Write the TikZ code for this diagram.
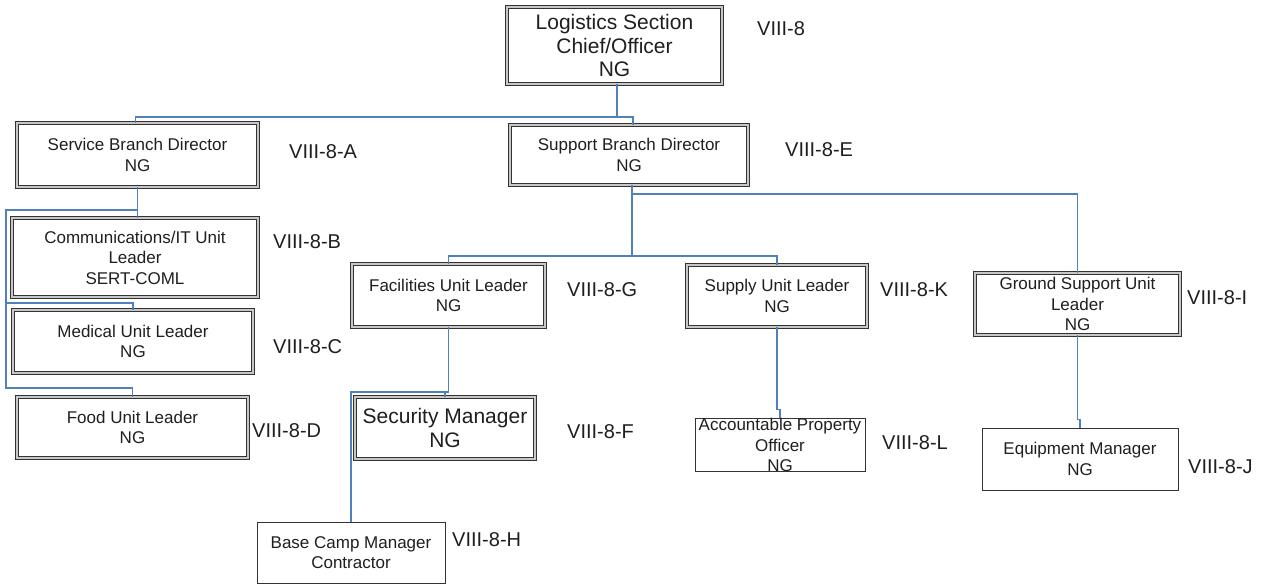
\documentclass[tikz,border=0pt]{standalone}
\usepackage{fontspec}
\setmainfont{Liberation Sans}
\begin{document}
\begin{tikzpicture}[x=1pt,y=-1pt,
  conn/.style={draw={rgb,255:red,79;green,129;blue,189},line width=1.1pt},
  boxbase/.style={rectangle,inner sep=0pt,align=center,text=black!88,font=\fontsize{17pt}{20.5pt}\selectfont},
  dbox/.style={boxbase,draw=black!80,line width=0.9pt,double=black!22,double distance=1.8pt},
  sbox/.style={boxbase,draw=black!80,line width=0.9pt},
  big/.style={font=\fontsize{21pt}{23.5pt}\selectfont},
  code/.style={anchor=west,inner sep=0pt,text=black!88,font=\fontsize{20pt}{22pt}\selectfont}
]
\useasboundingbox[fill=white] (0,0) rectangle (1262,585);

% boxes
\node[dbox,big,minimum width=215,minimum height=77] (log) at (614.5,45.5) {Logistics Section\\Chief/Officer\\NG};
\node[dbox,minimum width=241,minimum height=64] (svc) at (137.5,155) {Service Branch Director\\NG};
\node[dbox,minimum width=246,minimum height=79] (com) at (135,257.5) {Communications/IT Unit\\Leader\\SERT-COML};
\node[dbox,minimum width=240,minimum height=63] (med) at (133,341.5) {Medical Unit Leader\\NG};
\node[dbox,minimum width=231,minimum height=61] (food) at (132.5,427.5) {Food Unit Leader\\NG};
\node[dbox,minimum width=238,minimum height=60] (sup) at (629,155) {Support Branch Director\\NG};
\node[dbox,minimum width=193,minimum height=63] (fac) at (448.5,295.5) {Facilities Unit Leader\\NG};
\node[dbox,minimum width=180,minimum height=62] (spl) at (777,296) {Supply Unit Leader\\NG};
\node[dbox,minimum width=205,minimum height=62] (gnd) at (1077.5,304) {Ground Support Unit\\Leader\\NG};
\node[dbox,big,minimum width=180,minimum height=62] (sec) at (445,428) {Security Manager\\NG};
\node[sbox,minimum width=188,minimum height=61] (base) at (351,552.5) {Base Camp Manager\\Contractor};
\node[sbox,minimum width=170,minimum height=50] (apo) at (780,445) {Accountable Property\\Officer\\NG};
\node[sbox,minimum width=196,minimum height=62] (eqp) at (1080,459) {Equipment Manager\\NG};

% codes
\node[code] (c0) at (757,29) {VIII-8};
\node[code] (cA) at (289,152) {VIII-8-A};
\node[code] (cE) at (785,150) {VIII-8-E};
\node[code] (cB) at (273,242) {VIII-8-B};
\node[code] (cC) at (273,347) {VIII-8-C};
\node[code] (cD) at (252,431) {VIII-8-D};
\node[code] (cG) at (567,290) {VIII-8-G};
\node[code] (cF) at (567,432) {VIII-8-F};
\node[code] (cH) at (452,540) {VIII-8-H};
\node[code] (cK) at (880,290) {VIII-8-K};
\node[code] (cL) at (882,443) {VIII-8-L};
\node[code] (cI) at (1187,298) {VIII-8-I};
\node[code] (cJ) at (1188,467) {VIII-8-J};

% junction levels
\coordinate (j1) at (0,117);
\coordinate (j2) at (6,210);
\coordinate (j3) at (0,303);
\coordinate (j4) at (0,388);
\coordinate (j5) at (0,194);
\coordinate (j6) at (0,256);
\coordinate (j7) at (0,392);

% connectors
\draw[conn] ([xshift=2.5pt]log.south) -- ([xshift=2.5pt]log.south |- j1);
\draw[conn] ([xshift=-2pt]svc.north) -- ([xshift=-2pt]svc.north |- j1) -| ([xshift=4pt]sup.north);
\draw[conn] (svc.south) -- (svc.south |- com.north);
\draw[conn] (svc.south |- j2) -- (j2) -- (j2 |- j4) -| (food.north);
\draw[conn] (j2 |- j3) -| (med.north);
\draw[conn] ([xshift=3pt]sup.south) -- ([xshift=3pt]sup.south |- j6);
\draw[conn] (fac.north) |- ([xshift=3pt]sup.south |- j6) -| (spl.north);
\draw[conn] ([xshift=3pt]sup.south |- j5) -| (gnd.north);
\draw[conn] (fac.south) |- (base.north |- j7) -- (base.north);
\draw[conn] (sec.north) -- (sec.north |- j7);
\draw[conn] (spl.south) |- ([yshift=8pt]apo.north) -- (apo.north);
\draw[conn] (gnd.south) |- ([yshift=8pt]eqp.north) -- (eqp.north);
\end{tikzpicture}
\end{document}
